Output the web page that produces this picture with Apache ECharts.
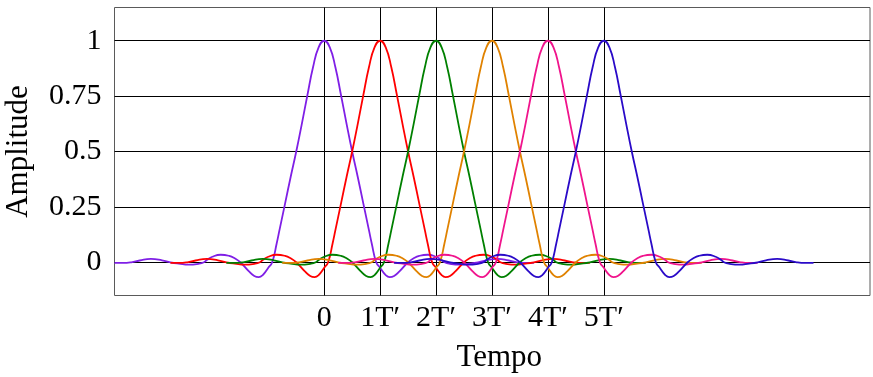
<!DOCTYPE html>
<html>
<head>
<meta charset="utf-8">
<script src="https://cdn.jsdelivr.net/npm/echarts@6/dist/echarts.min.js"></script>
<style>
  html, body { margin: 0; padding: 0; background: #fff; }
  #chart { width: 873px; height: 377px; }
</style>
</head>
<body>
<div id="chart"></div>
<script>
// pulse centres, in units of T'
const centers = [0, 1, 2, 3, 4, 5]
const seriesColors = ['#7f1fe6', '#ff0000', '#008000', '#e08200', '#f0148c', '#2a0ac8']

// one pulse: time offset from its centre (T') and amplitude
const pulseOffsets = [
  -3.75, -3.6, -3.45, -3.3, -3.1, -2.9, -2.75, -2.6, -2.42, -2.25, -2.15, -2.1, -2.0, -1.85, -1.7, -1.6, -1.5, -1.35, -1.25, -1.17, -1.1, -1.0, -0.93,
  -0.85, -0.8, -0.7, -0.6, -0.5, -0.4, -0.3, -0.2, -0.1, 0,
  0.1, 0.2, 0.3, 0.4, 0.5, 0.6, 0.7, 0.8, 0.85,
  0.93, 1.0, 1.1, 1.17, 1.25, 1.35, 1.5, 1.6, 1.7, 1.85, 2.0, 2.1, 2.15, 2.25, 2.42, 2.6, 2.75, 2.9, 3.1, 3.3, 3.45, 3.6, 3.75]
const pulseAmps = [
  -0.003, -0.003, 0, 0.008, 0.015, 0.009, 0, -0.006, -0.011, -0.007, 0, 0.01, 0.025, 0.034, 0.029, 0.018, 0, -0.04, -0.062, -0.067, -0.058, -0.025, 0,
  0.085, 0.145, 0.265, 0.385, 0.5, 0.625, 0.755, 0.88, 0.97, 1,
  0.97, 0.88, 0.755, 0.625, 0.5, 0.385, 0.265, 0.145, 0.085,
  0, -0.025, -0.058, -0.067, -0.062, -0.04, 0, 0.018, 0.029, 0.034, 0.025, 0.01, 0, -0.007, -0.011, -0.006, 0, 0.009, 0.015, 0.008, 0, -0.003, -0.003]

const xTickValues = [0, 1, 2, 3, 4, 5]
const xTickLabels = ['0', '1T\u2032', '2T\u2032', '3T\u2032', '4T\u2032', '5T\u2032']
const yTickValues = [0, 0.25, 0.5, 0.75, 1]
const yTickLabels = ['0', '0.25', '0.5', '0.75', '1']

const FONT = '"Liberation Serif", "DejaVu Serif", serif'

const chart = echarts.init(document.getElementById('chart'))

const series = centers.map((c, k) => ({
  type: 'line',
  data: pulseOffsets.map((o, i) => [c + o, pulseAmps[i]]),
  smooth: true,
  showSymbol: false,
  lineStyle: { color: seriesColors[k], width: 1.8 },
  z: 3 + k,
}))

chart.setOption({
  animation: false,
  grid: {
    left: 114.5, right: 3, top: 7.5, bottom: 81.5,
    outerBoundsMode: 'none',
    show: true, borderColor: '#5a5a5a', borderWidth: 1
  },
  xAxis: {
    type: 'value',
    min: -3.75,
    max: 9.76,
    name: 'Tempo',
    nameLocation: 'middle',
    nameGap: 47,
    nameTextStyle: { color: '#000', fontFamily: FONT, fontSize: 31, padding: [0, 0, 0, 14] },
    axisLine: { show: false },
    axisTick: { show: false, customValues: xTickValues },
    axisLabel: {
      customValues: xTickValues,
      color: '#000', fontFamily: FONT, fontSize: 30, margin: 8,
      formatter: v => xTickLabels[xTickValues.indexOf(v)] ?? ''
    },
    splitLine: { show: true, lineStyle: { color: '#000', width: 1 } },
  },
  yAxis: {
    type: 'value',
    min: -0.15,
    max: 1.15,
    name: 'Amplitude',
    nameLocation: 'middle',
    nameGap: 80,
    nameTextStyle: { color: '#000', fontFamily: FONT, fontSize: 31 },
    axisLine: { show: false },
    axisTick: { show: false, customValues: yTickValues },
    axisLabel: {
      customValues: yTickValues,
      color: '#000', fontFamily: FONT, fontSize: 30, margin: 13,
      formatter: v => yTickLabels[yTickValues.indexOf(v)] ?? ''
    },
    splitLine: { show: true, lineStyle: { color: '#000', width: 1 } },
  },
  series,
})
</script>
</body>
</html>
